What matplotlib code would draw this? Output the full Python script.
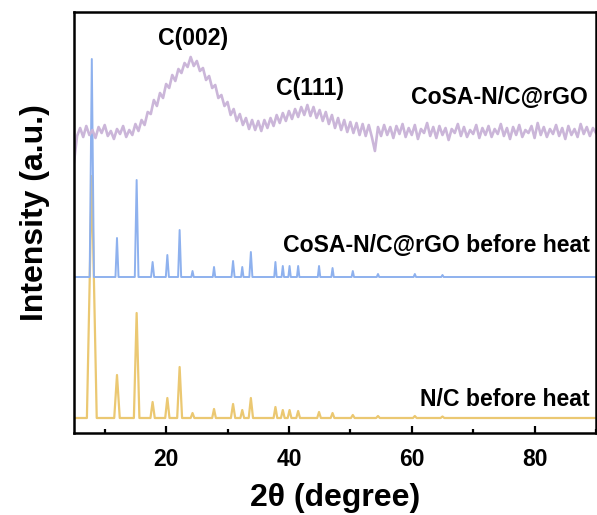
import numpy as np
import matplotlib
matplotlib.use("Agg")
import matplotlib.pyplot as plt
from matplotlib.ticker import MultipleLocator

plt.rcParams["font.family"] = ["Liberation Sans", "DejaVu Sans"]
plt.rcParams["font.weight"] = "bold"

# ---------------------------------------------------------------------------
# Data
# ---------------------------------------------------------------------------
# Crystalline peaks: position (2theta), height (a.u.), half base width
peak_pos = [7.9, 12.0, 15.2, 17.8, 20.2, 22.2, 24.3, 27.8, 30.9, 32.4,
            33.8, 37.8, 39.0, 40.1, 41.5, 44.9, 47.1, 50.4, 54.5, 60.5, 65.0]

nc_heights = [242, 43, 105, 16, 20, 51, 5, 9, 14, 8,
              20, 11, 8, 8, 7, 6, 5, 3, 2, 2, 1.5]
nc_halfwidth = [0.8, 0.45, 0.45, 0.35, 0.35, 0.4, 0.3, 0.3, 0.35, 0.3,
                0.35, 0.3, 0.3, 0.3, 0.3, 0.3, 0.3, 0.3, 0.3, 0.3, 0.3]

bh_heights = [218, 39, 97, 15, 22, 47, 6, 10, 16, 10,
              25, 15, 11, 11, 11, 11, 9, 6, 3, 3, 2]
bh_halfwidth = [0.35, 0.25, 0.3, 0.25, 0.25, 0.25, 0.2, 0.2, 0.25, 0.2,
                0.25, 0.2, 0.2, 0.2, 0.2, 0.2, 0.2, 0.2, 0.2, 0.2, 0.2]

# Amorphous CoSA-N/C@rGO trace, sampled every 0.5 degree from 5 to 90
rgo_2theta = np.arange(5.0, 90.01, 0.5)
rgo_counts = [
    -29, -3, 5, -4, 7, -2, 3, -5, 6, 0, 8, -3, 2, -6, 4, -1, 7, -4, 3, -2,
    9, 2, 13, 8, 21, 19, 33, 27, 40, 35, 49, 45, 58, 52, 64, 60, 70, 66,
    76, 67, 72, 62, 65, 53, 57, 45, 48, 35, 38, 27, 31, 18, 24, 12, 19, 8,
    15, 4, 13, 3, 12, 2, 13, 5, 15, 7, 18, 10, 20, 12, 22, 14, 24, 16, 26,
    18, 28, 17, 26, 15, 23, 12, 21, 9, 18, 5, 15, 3, 13, 1, 11, 0, 10, -2,
    9, -3, 8, -4, -18, 6, -3, 8, -2, 6, -5, 7, -1, 9, -4, 5, -2, 8, -6, 4,
    0, 10, -3, 6, -5, 7, -2, 5, -7, 4, 0, 9, -3, 6, -4, 3, -1, 8, -5, 5,
    -2, 7, -4, 4, -1, 9, -3, 5, -6, 6, -2, 8, -4, 3, 0, 7, -5, 10, -2, 6,
    -4, 4, -1, 8, -3, 5, -6, 7, -2, 4, -4, 9, -1, 6, -3, 5, 0,
]

# Vertical stacking offsets
OFFSET_NC = 15
OFFSET_BH = 156
OFFSET_RGO = 300

COLOR_NC = "#ebc872"
COLOR_BH = "#8eb1ee"
COLOR_RGO = "#cbb6d9"


def stick_trace(pos, heights, halfwidth):
    """Polyline: flat baseline with a triangular peak at each position."""
    xs, ys = [5.0], [0.0]
    for p, h, w in zip(pos, heights, halfwidth):
        xs += [p - w, p, p + w]
        ys += [0.0, h, 0.0]
    xs.append(90.0)
    ys.append(0.0)
    return np.array(xs), np.array(ys)


def main():
    fig = plt.figure(figsize=(5.97, 5.15), dpi=100)
    ax = fig.add_axes([74 / 597, 82 / 515, 522 / 597, 421 / 515])

    x_nc, y_nc = stick_trace(peak_pos, nc_heights, nc_halfwidth)
    x_bh, y_bh = stick_trace(peak_pos, bh_heights, bh_halfwidth)

    ax.plot(x_nc, y_nc + OFFSET_NC, color=COLOR_NC, lw=1.6)
    ax.plot(x_bh, y_bh + OFFSET_BH, color=COLOR_BH, lw=1.4)
    ax.plot(rgo_2theta, np.array(rgo_counts) + OFFSET_RGO,
            color=COLOR_RGO, lw=1.9)

    txt = dict(fontsize=16.6, fontweight="bold", color="black")
    ax.text(24.4, 395, "C(002)", ha="center", va="center", **txt)
    ax.text(43.4, 345, "C(111)", ha="center", va="center", **txt)
    ax.text(88.6, 336, "CoSA-N/C@rGO", ha="right", va="center", **txt)
    ax.text(89.0, 188, "CoSA-N/C@rGO before heat", ha="right", va="center", **txt)
    ax.text(89.0, 34, "N/C before heat", ha="right", va="center", **txt)

    ax.set_xlim(5, 90)
    ax.set_ylim(0, 421)
    ax.xaxis.set_major_locator(MultipleLocator(20))
    ax.xaxis.set_minor_locator(MultipleLocator(10))
    ax.tick_params(axis="x", which="major", direction="in", length=5,
                   width=1.6, labelsize=16.5, pad=11)
    ax.tick_params(axis="x", which="minor", direction="in", length=3, width=1.6)
    ax.set_yticks([])
    for s in ax.spines.values():
        s.set_linewidth(1.8)

    ax.set_xlabel("2θ (degree)", fontsize=23, fontweight="bold")
    ax.set_ylabel("Intensity (a.u.)", fontsize=23, fontweight="bold")
    ax.xaxis.set_label_coords(0.5, -0.118)
    ax.yaxis.set_label_coords(-0.046, 0.523)

    fig.savefig("out.png", dpi=100)
    plt.close(fig)


if __name__ == "__main__":
    main()
